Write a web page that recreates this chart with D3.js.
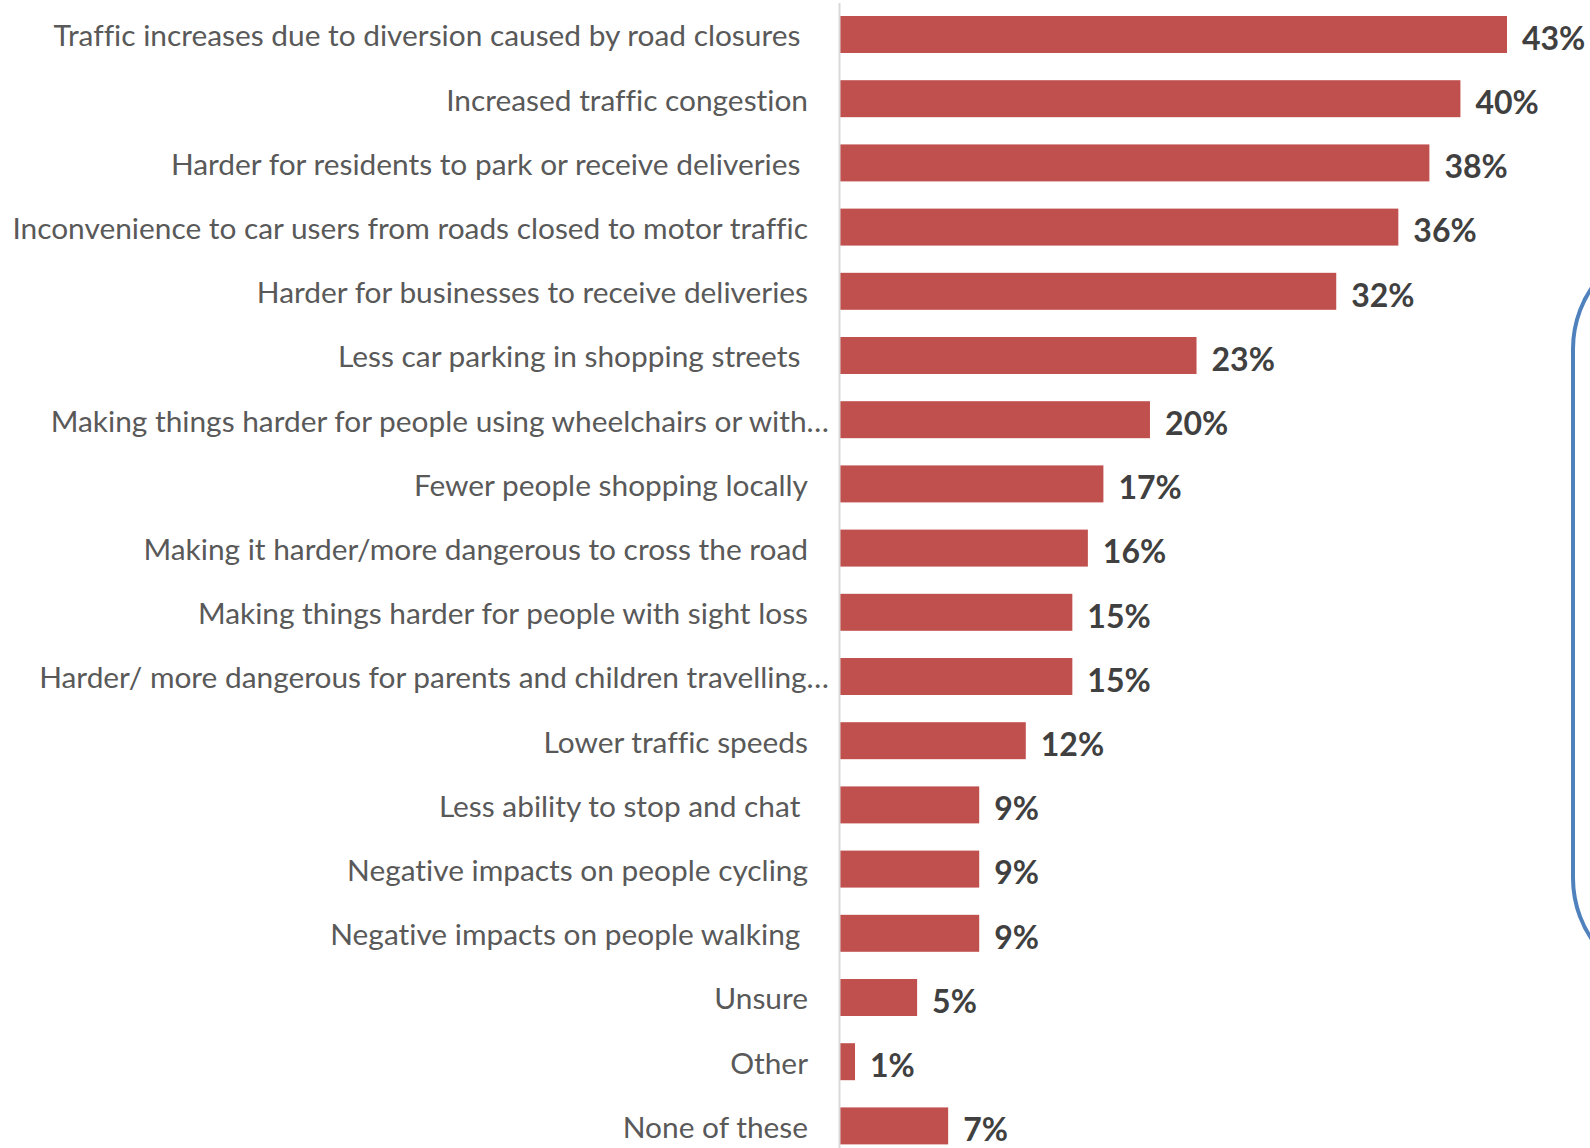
<!DOCTYPE html>
<html><head><meta charset="utf-8">
<script src="https://cdn.jsdelivr.net/npm/d3@7"></script>
<style>html,body{margin:0;padding:0;background:#fff;overflow:hidden} text{font-variant-ligatures:none}</style>
</head><body>
<svg id="chart" width="1590" height="1148"></svg>
<script>
const categories = [
  "Traffic increases due to diversion caused by road closures ",
  "Increased traffic congestion",
  "Harder for residents to park or receive deliveries ",
  "Inconvenience to car users from roads closed to motor traffic",
  "Harder for businesses to receive deliveries",
  "Less car parking in shopping streets ",
  "Making things harder for people using wheelchairs or with…",
  "Fewer people shopping locally",
  "Making it harder/more dangerous to cross the road",
  "Making things harder for people with sight loss",
  "Harder/ more dangerous for parents and children travelling…",
  "Lower traffic speeds",
  "Less ability to stop and chat ",
  "Negative impacts on people cycling",
  "Negative impacts on people walking ",
  "Unsure",
  "Other",
  "None of these"
];
const values = [43, 40, 38, 36, 32, 23, 20, 17, 16, 15, 15, 12, 9, 9, 9, 5, 1, 7];
const valueLabels = values.map(v => v + "%");

const svg = d3.select("#chart");
const axisX = 839.5;
const x = d3.scaleLinear().domain([0, d3.max(values)]).range([axisX, 1507]);
const y = d3.scaleBand().domain(categories).range([2.4, 2.4 + 18 * 64.2]).paddingInner(0.424).paddingOuter(0.212);

// bars
svg.append("g").selectAll("rect").data(values).join("rect")
  .attr("x", x(0))
  .attr("y", (d, i) => y(categories[i]))
  .attr("width", d => x(d) - x(0))
  .attr("height", y.bandwidth())
  .attr("fill", "#c0504d");

// axis line
svg.append("line").attr("x1", axisX).attr("x2", axisX).attr("y1", 3).attr("y2", 1148)
  .attr("stroke", "#d9d9d9").attr("stroke-width", 2);

// category labels
const labelFont = "Lato, 'Open Sans', sans-serif";
const labels = svg.append("g").selectAll("text").data(categories).join("text")
  .attr("x", d => d.endsWith("…") ? 829 : 808)
  .attr("y", d => y(d) + y.bandwidth() / 2 + 1.5)
  .attr("dy", "0.35em")
  .attr("text-anchor", "end")
  .attr("fill", "#595959")
  .style("white-space", "pre")
  .attr("font-family", labelFont)
  .attr("font-size", 28)
  .text(d => d);
// fit widest label to reference width
const longest = labels.filter(d => d.startsWith("Inconvenience")).node();
const w = longest.getComputedTextLength();
const fs = 28 * 796 / w;
labels.attr("font-size", fs);

// value labels
svg.append("g").selectAll("text").data(values).join("text")
  .attr("x", d => x(d) + 15)
  .attr("y", (d, i) => y(categories[i]) + y.bandwidth() / 2 + 4)
  .attr("dy", "0.35em")
  .attr("fill", "#404040")
  .attr("font-weight", "bold")
  .attr("font-family", labelFont)
  .attr("font-size", 32)
  .text((d, i) => valueLabels[i]);

// partial rounded box at right edge
svg.append("rect")
  .attr("x", 1573).attr("y", 289 - 45).attr("width", 200).attr("height", 938 - 289 + 90)
  .attr("rx", 105).attr("ry", 105)
  .attr("fill", "none").attr("stroke", "#4f81bd").attr("stroke-width", 4);
</script>
</body></html>
